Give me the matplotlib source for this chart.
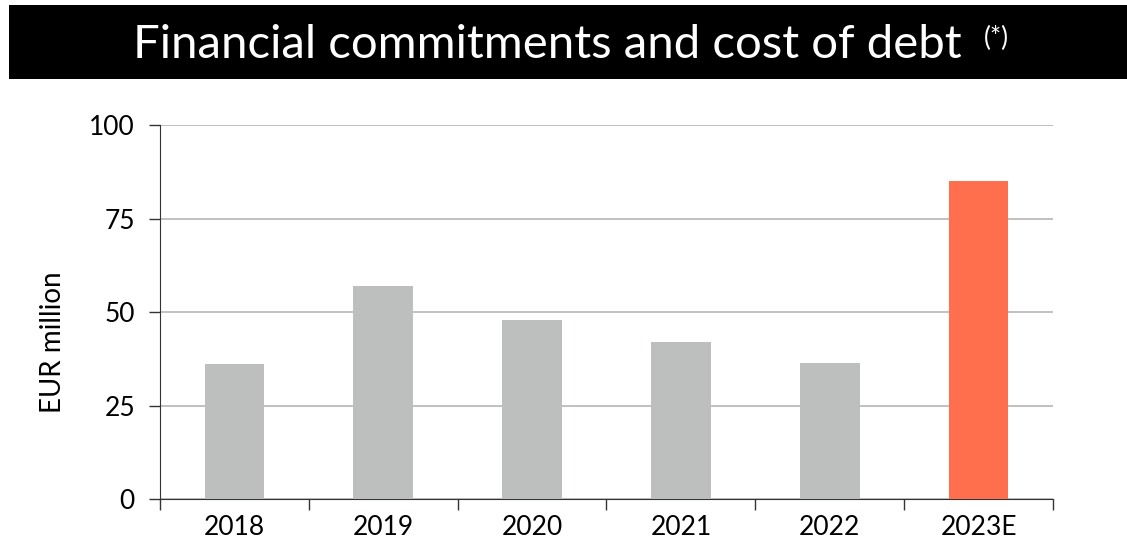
import matplotlib
matplotlib.use("Agg")
import matplotlib.pyplot as plt
from matplotlib.patches import Rectangle

categories = ["2018", "2019", "2020", "2021", "2022", "2023E"]
values = [36.2, 57.0, 48.0, 42.1, 36.3, 85.0]
colors = ["#BDBFBE", "#BDBFBE", "#BDBFBE", "#BDBFBE", "#BDBFBE", "#FF6F4D"]
yticks = [0, 25, 50, 75, 100]

plt.rcParams['font.family'] = ['Lato', 'DejaVu Sans']

W, H = 1127, 547
fig = plt.figure(figsize=(W / 100, H / 100), dpi=100)

# title bar
fig.patches.append(Rectangle((9 / W, 1 - 79 / H), (1127 - 9) / W, (79 - 5) / H,
                             transform=fig.transFigure, facecolor="black", edgecolor="none", zorder=0))
fig.text(133 / W, 1 - 45 / H, "Financial commitments and cost of debt",
         color="white", fontsize=34, ha="left", va="center")
fig.text(984 / W, 1 - 38 / H, "(*)", color="white", fontsize=19, ha="left", va="center")

ax = fig.add_axes([160 / W, 1 - 499.3 / H, (1053 - 160) / W, (499.3 - 125) / H])
x = list(range(len(categories)))
ax.bar(x, values, width=0.40, color=colors, zorder=3)
ax.set_xlim(-0.5, len(categories) - 0.5)
ax.set_ylim(0, 100)
ax.set_yticks(yticks)
ax.set_yticklabels([str(t) for t in yticks], fontsize=19)
ax.yaxis.grid(True, color="#B5B5B5", linewidth=1.2, zorder=0)
ax.set_axisbelow(True)

ax.set_xticks(x)
ax.set_xticklabels(categories, fontsize=19)
ax.tick_params(axis="x", which="major", length=0, pad=11)
ax.set_xticks([i - 0.5 for i in range(len(categories) + 1)], minor=True)
ax.tick_params(axis="x", which="minor", length=8, width=1, color="#333333")
ax.tick_params(axis="y", length=8, width=1, color="#333333", pad=10)

for s in ["top", "right"]:
    ax.spines[s].set_visible(False)
ax.spines["left"].set_color("#333333")
ax.spines["bottom"].set_color("#333333")

fig.text(53 / W, 1 - 342 / H, "EUR million", rotation=90, fontsize=20, ha="center", va="center")

fig.savefig("out.png", dpi=100)
